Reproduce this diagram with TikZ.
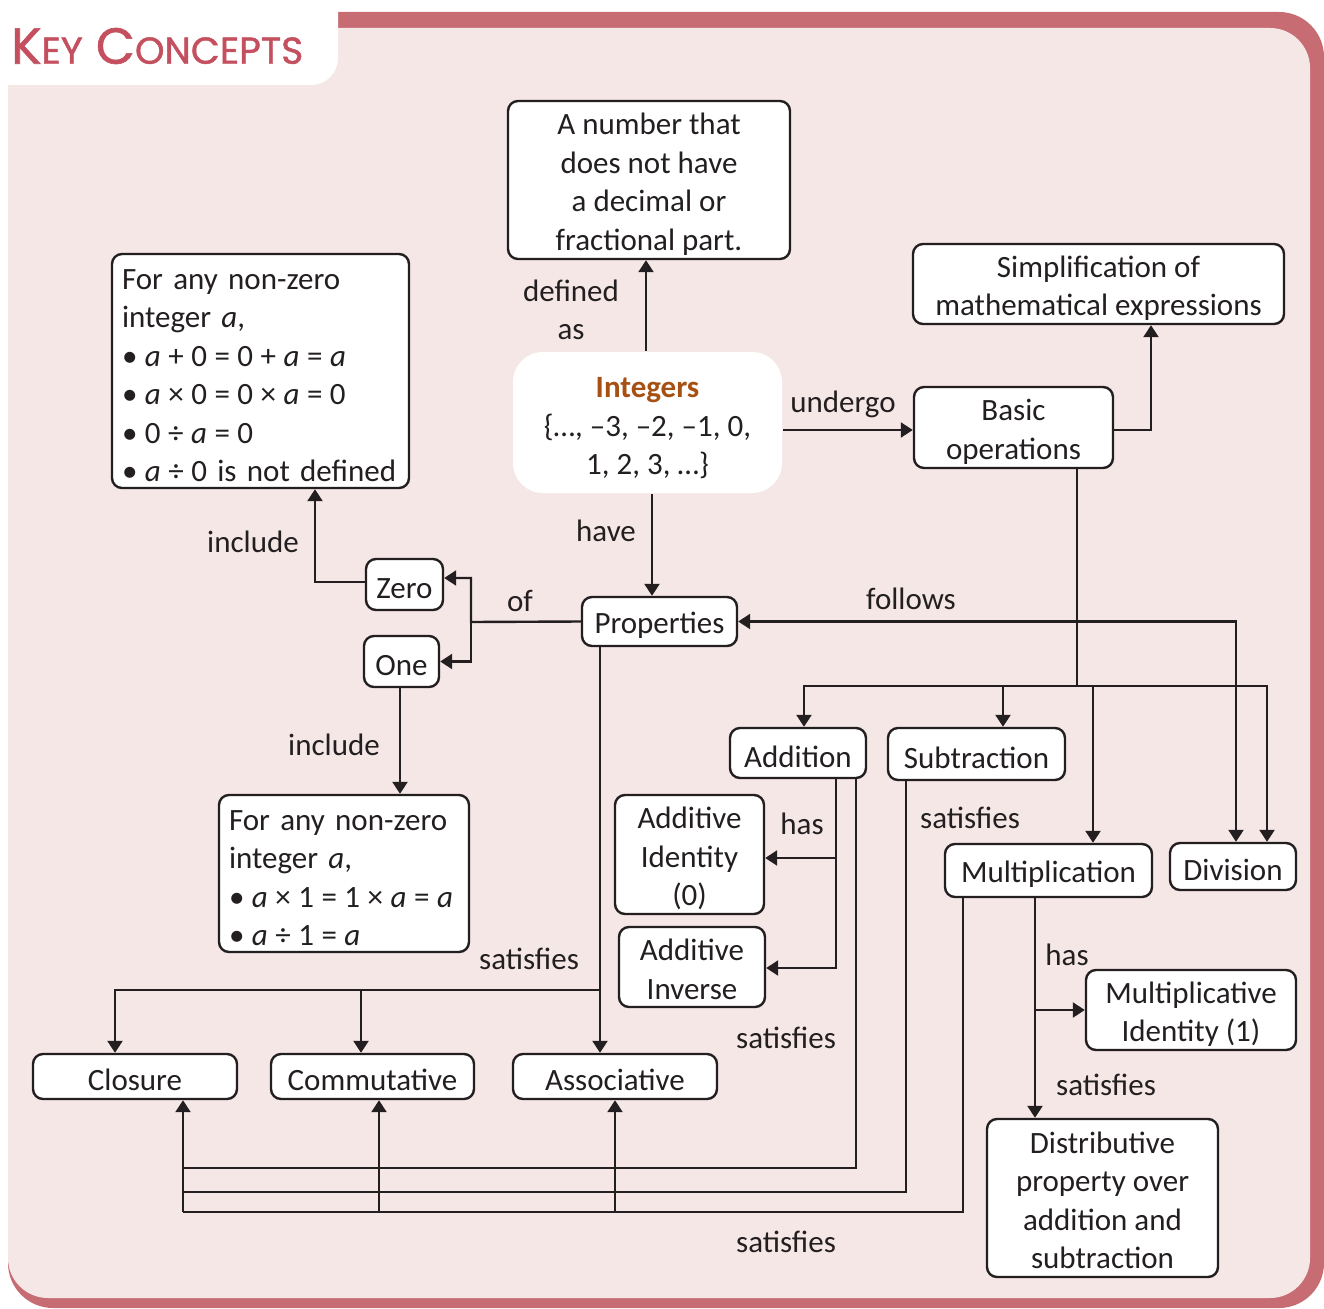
\documentclass[tikz,border=0pt]{standalone}
\usepackage{fontspec}
\setmainfont{Carlito}
\newfontfamily\titlefont[FakeBold=1.2]{Poppins}
\usetikzlibrary{arrows.meta}
\definecolor{bgpink}{RGB}{246,231,231}
\definecolor{rose}{RGB}{200,108,116}
\definecolor{titlecol}{RGB}{196,80,95}
\definecolor{intcol}{RGB}{166,80,20}
\definecolor{ink}{RGB}{35,31,32}
\newcommand\fml[1]{{\spaceskip=7.5pt\relax #1}}
\newcommand\upr[1]{\rule{0pt}{#1}}
\begin{document}
\begin{tikzpicture}[x=1pt,y=-1pt,
  box/.style={draw=ink, line width=2.4pt, rounded corners=10pt, fill=white, align=center,
    inner sep=0pt, font=\fontsize{31}{38.5}\selectfont, text=ink,
    execute at begin node={\rule{0pt}{29pt}}},
  lbl/.style={font=\fontsize{31}{38.5}\selectfont, text=ink, inner sep=0pt, align=center},
  conn/.style={draw=ink, line width=2.4pt},
  arr/.style={conn, -{Triangle[width=15pt,length=12pt]}},
  arrboth/.style={conn, {Triangle[width=15pt,length=12pt]}-{Triangle[width=15pt,length=12pt]}}]
\useasboundingbox (0,0) rectangle (1324,1308);
% frame
\fill[white] (0,0) rectangle (1324,1308);
\fill[rose, rounded corners=45pt] (8,12) rectangle (1324,1308);
\fill[bgpink, rounded corners=40pt] (8,28) rectangle (1310,1298);
\fill[white] (0,0) -- (338,0) [rounded corners=27pt] -- (338,85) [sharp corners] -- (0,85) -- cycle;
\node[anchor=west, text=titlecol, inner sep=0pt] (title) at (11,46)
  {\resizebox{292pt}{!}{\titlefont{\fontsize{54}{60}\selectfont K}{\fontsize{40}{48}\selectfont EY}\hspace{14pt}{\fontsize{54}{60}\selectfont C}{\fontsize{40}{48}\selectfont ONCEPTS}}};

% helper coordinates
\coordinate (v115) at (115,0);
\coordinate (v183) at (183,0);
\coordinate (v315) at (315,0);
\coordinate (v361) at (361,0);
\coordinate (v379) at (379,0);
\coordinate (v400) at (400,0);
\coordinate (v600) at (600,0);
\coordinate (v615) at (615,0);
\coordinate (v646) at (646,0);
\coordinate (v652) at (652,0);
\coordinate (v804) at (804,0);
\coordinate (v836) at (836,0);
\coordinate (v856) at (856,0);
\coordinate (v906) at (906,0);
\coordinate (v963) at (963,0);
\coordinate (v1003) at (1003,0);
\coordinate (v1035) at (1035,0);
\coordinate (v1093) at (1093,0);
\coordinate (v1151) at (1151,0);
\coordinate (v1236) at (1236,0);
\coordinate (v1267) at (1267,0);
\coordinate (h430) at (0,430);
\coordinate (h686) at (0,686);
\coordinate (h858) at (0,858);
\coordinate (h968) at (0,968);
\coordinate (h990) at (0,990);
\coordinate (h1168) at (0,1168);
\coordinate (h1192) at (0,1192);
\coordinate (h1212) at (0,1212);
\coordinate (ofj) at (471,622);
\coordinate (jb) at (1077,686);

% nodes
\node[box, minimum width=282pt, minimum height=158pt] (def) at (649,180)
  {\upr{30pt}A number that\\does not have\\a decimal or\\fractional part.};
\node[box, minimum width=371pt, minimum height=80pt] (simp) at (1098.5,284)
  {\upr{30pt}Simplification of\\mathematical expressions};
\node[box, align=left, text width=277pt, inner xsep=10pt, minimum height=234pt] (zprop) at (260.5,371)
  {\upr{28pt}For any non-zero\\integer \textit{a},\\\fml{• \textit{a} + 0 = 0 + \textit{a} = \textit{a}}\\\fml{• \textit{a} × 0 = 0 × \textit{a} = 0}\\\fml{• 0 ÷ \textit{a} = 0}\\\fml{• \textit{a} ÷ 0} is not defined};
\node[box, draw=none, rounded corners=30pt, minimum width=269pt, minimum height=141pt] (int) at (647.5,422.5)
  {\upr{32pt}{\bfseries\color{intcol}Integers}\\\{…, –3, –2, –1, 0,\\1, 2, 3, …\}};
\node[box, minimum width=199pt, minimum height=81pt] (basic) at (1013.5,427.5) {\upr{30pt}Basic\\operations};
\node[box, minimum width=77pt, minimum height=51pt] (zero) at (404.5,584.5) {Zero};
\node[box, minimum width=75pt, minimum height=51pt] (one) at (401.5,661.5) {One};
\node[box, minimum width=155pt, minimum height=49pt] (prop) at (659.5,621.5) {Properties};
\node[box, align=left, text width=230pt, inner xsep=10pt, minimum height=157pt] (oprop) at (344,873.5)
  {\upr{28pt}For any non-zero\\integer \textit{a},\\\fml{• \textit{a} × 1 = 1 × \textit{a} = \textit{a}}\\\fml{• \textit{a} ÷ 1 = \textit{a}}};
\node[box, minimum width=136pt, minimum height=50pt] (add) at (798,753) {Addition};
\node[box, minimum width=177pt, minimum height=52pt] (sub) at (976.5,754) {Subtraction};
\node[box, minimum width=149pt, minimum height=119pt] (addid) at (689.5,854.5) {\upr{30pt}Additive\\Identity\\(0)};
\node[box, minimum width=146pt, minimum height=80pt] (addinv) at (692,967) {\upr{26pt}Additive\\Inverse};
\node[box, minimum width=207pt, minimum height=53pt] (mult) at (1048.5,870.5) {Multiplication};
\node[box, minimum width=126pt, minimum height=47pt] (div) at (1233,866.5) {Division};
\node[box, minimum width=210pt, minimum height=80pt] (multid) at (1191,1010) {\upr{30pt}Multiplicative\\Identity (1)};
\node[box, minimum width=231pt, minimum height=158pt] (dist) at (1102.5,1198)
  {\upr{26pt}Distributive\\property over\\addition and\\subtraction};
\node[box, minimum width=204pt, minimum height=45pt] (clos) at (135,1076.5) {Closure};
\node[box, minimum width=203pt, minimum height=45pt] (comm) at (372.5,1076.5) {Commutative};
\node[box, minimum width=204pt, minimum height=45pt] (assoc) at (615,1076.5) {Associative};

% connectors
\draw[arr] (int.north -| v646) -- (def.south -| v646);
\draw[arr] (int.east |- h430) -- (basic.west |- h430);
\draw[arr] (basic.east |- h430) -| (simp.south -| v1151);
\draw[arr] (int.south -| v652) -- (prop.north -| v652);
\draw[arr] (prop.west) -- (ofj) |- ([yshift=6.5pt]zero.east);
\draw[arr] (ofj) |- (one.east);
\draw[arr] ([yshift=2.5pt]zero.west) -| (zprop.south -| v315);
\draw[arr] (one.south -| v400) -- (oprop.north -| v400);
\draw[conn] (basic.south -| jb) -- (jb);
\draw[arr] (jb) -| (add.north -| v804);
\draw[arr] (jb) -| (sub.north -| v1003);
\draw[arr] (jb) -| (div.north -| v1267);
\draw[arr] (v1093 |- h686) -- (mult.north -| v1093);
\draw[arrboth] (prop.east) -| (div.north -| v1236);
\draw[arr] (add.south -| v836) |- (addinv.east |- h968);
\draw[arr] (v836 |- h858) -- (addid.east |- h858);
\draw[conn] (add.south -| v856) |- (v183 |- h1168);
\draw[conn] (sub.south -| v906) |- (v183 |- h1192);
\draw[conn] (mult.south -| v963) |- (v183 |- h1212);
\draw[arr] (v183 |- h1212) -- (clos.south -| v183);
\draw[arr] (v379 |- h1212) -- (comm.south -| v379);
\draw[arr] (v615 |- h1212) -- (assoc.south -| v615);
\draw[arr] (mult.south -| v1035) -- (dist.north -| v1035);
\draw[arr] (v1035 |- multid.west) -- (multid.west);
\draw[arr] (prop.south -| v600) -- (assoc.north -| v600);
\draw[arr] (v600 |- h990) -| (clos.north -| v115);
\draw[arr] (v361 |- h990) -- (comm.north -| v361);

% labels
\node[lbl] (l1) at (571,310) {defined\\as};
\node[lbl] (l2) at (843,404) {undergo};
\node[lbl] (l3) at (606,531) {have};
\node[lbl] (l4) at (520,601) {of};
\node[lbl] (l5) at (253,542) {include};
\node[lbl] (l6) at (334,745) {include};
\node[lbl] (l7) at (911,599) {follows};
\node[lbl] (l8) at (802,824) {has};
\node[lbl] (l9) at (970,818) {satisfies};
\node[lbl] (l10) at (529,959) {satisfies};
\node[lbl] (l11) at (786,1038) {satisfies};
\node[lbl] (l12) at (1067,955) {has};
\node[lbl] (l13) at (1106,1085) {satisfies};
\node[lbl] (l14) at (786,1242) {satisfies};
\end{tikzpicture}
\end{document}
